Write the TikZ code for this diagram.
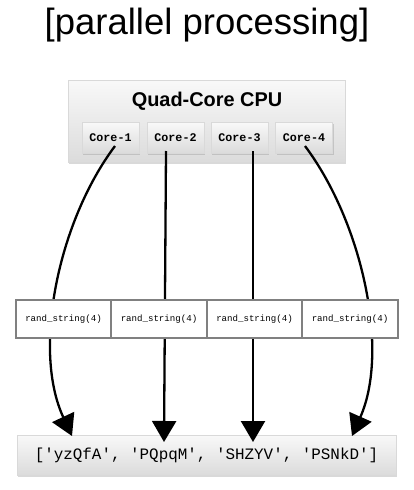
\documentclass[tikz,border=0pt]{standalone}
\usepackage{fontspec}
\setmainfont{Liberation Sans}
\setmonofont{Liberation Mono}
\usetikzlibrary{arrows.meta,shadows}

\begin{document}
\begin{tikzpicture}[x=1pt,y=-1pt,
  box/.style={draw=gray!30, top color=gray!5, bottom color=gray!28,
    drop shadow={opacity=0.3,shadow xshift=1pt,shadow yshift=-2pt}},
  corebox/.style={box, minimum width=57pt, minimum height=31pt, inner sep=0pt,
    font=\ttfamily\bfseries\fontsize{11.7}{12}\selectfont},
  randbox/.style={draw=gray, line width=2pt, fill=white, minimum width=95.5pt,
    minimum height=38pt, inner sep=0pt, font=\ttfamily\fontsize{9.1}{10}\selectfont},
  task/.style={line width=2.3pt, -{Triangle[length=21pt,width=24pt]}}]

\useasboundingbox (0,0) rectangle (414,490);

\draw (207,25) node (title) {\fontsize{36.5}{40}\selectfont [parallel processing]};

\node[box, minimum width=277pt, minimum height=82pt, inner sep=0pt] (cpu) at (206.5,121) {};

\draw (207,101) node (cpulabel) {\bfseries\fontsize{19.9}{22}\selectfont Quad-Core CPU};

\node[corebox] (c1) at (110.5,137.5) {Core-1};
\node[corebox] (c2) at (175.5,137.5) {Core-2};
\node[corebox] (c3) at (239.5,137.5) {Core-3};
\node[corebox] (c4) at (304,137.5) {Core-4};

\node[box, minimum width=379pt, minimum height=40pt, inner sep=0pt,
  font=\ttfamily\fontsize{15.9}{17}\selectfont] (out) at (206.5,455) {['yzQfA', 'PQpqM', 'SHZYV', 'PSNkD']};

% where the arrows start and end
\coordinate (s1) at (115,146);
\coordinate (s2) at (166,151);
\coordinate (s3) at (253,151);
\coordinate (s4) at (305,146);

\coordinate (e1) at (72,436);
\coordinate (e2) at (164,442);
\coordinate (e3) at (253,442);
\coordinate (e4) at (352,436);

\draw[task] (s1) .. controls (58,222) and (32,350) .. (e1);
\draw[task] (s2) -- (e2);
\draw[task] (s3) -- (e3);
\draw[task] (s4) .. controls (362,222) and (390,350) .. (e4);

\node[randbox] (r1) at (63.5,319) {rand\_string(4)};
\node[randbox] (r2) at (159,319) {rand\_string(4)};
\node[randbox] (r3) at (254.5,319) {rand\_string(4)};
\node[randbox] (r4) at (350,319) {rand\_string(4)};

\end{tikzpicture}
\end{document}
